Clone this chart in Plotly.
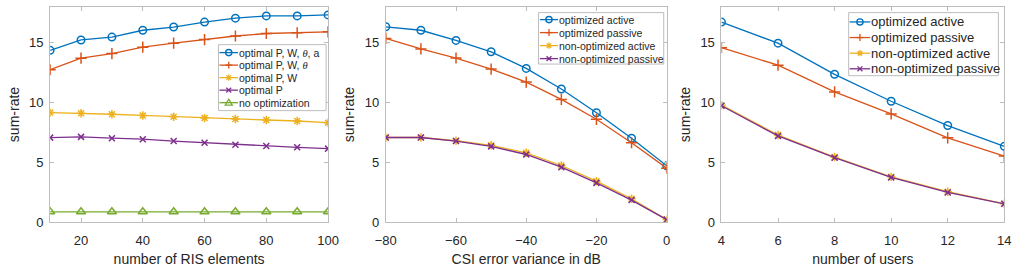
import plotly.graph_objects as go

# Panel 1: number of RIS elements
ris_x = [10, 20, 30, 40, 50, 60, 70, 80, 90, 100]
p1_pwta = [14.36, 15.23, 15.47, 16.04, 16.31, 16.72, 17.05, 17.24, 17.24, 17.32]
p1_pwt = [12.74, 13.71, 14.09, 14.63, 14.96, 15.26, 15.56, 15.77, 15.83, 15.91]
p1_pw = [9.16, 9.11, 9.02, 8.92, 8.81, 8.70, 8.62, 8.54, 8.46, 8.32]
p1_p = [7.07, 7.13, 7.02, 6.94, 6.78, 6.64, 6.48, 6.37, 6.26, 6.15]
p1_none = [0.87, 0.87, 0.87, 0.87, 0.87, 0.87, 0.87, 0.87, 0.87, 0.87]

# Panel 2: CSI error variance in dB
csi_x = [-80, -70, -60, -50, -40, -30, -20, -10, 0]
p2_oa = [16.33, 16.04, 15.19, 14.24, 12.85, 11.13, 9.15, 7.02, 4.71]
p2_op = [15.36, 14.48, 13.72, 12.80, 11.71, 10.26, 8.60, 6.64, 4.52]
p2_na = [7.08, 7.08, 6.81, 6.43, 5.80, 4.74, 3.43, 1.96, 0.22]
p2_np = [7.08, 7.08, 6.78, 6.34, 5.66, 4.60, 3.29, 1.85, 0.22]

# Panel 3: number of users
users_x = [4, 6, 8, 10, 12, 14]
p3_oa = [16.72, 14.96, 12.36, 10.11, 8.08, 6.34]
p3_op = [14.58, 13.12, 10.89, 9.05, 7.05, 5.53]
p3_na = [9.78, 7.29, 5.45, 3.79, 2.55, 1.54]
p3_np = [9.73, 7.21, 5.39, 3.74, 2.49, 1.54]

theta = "<span style=\"font-family:'Liberation Serif', serif\"><i>θ</i></span>"
names1 = ["optimal P, W, " + theta + ", a", "optimal P, W, " + theta, "optimal P, W", "optimal P", "no optimization"]
names23 = ["optimized active", "optimized passive", "non-optimized active", "non-optimized passive"]

C = ["#0072BD", "#D95319", "#EDB120", "#7E2F8E", "#77AC30"]
SYM = ["circle-open", "cross-thin-open", "asterisk-open", "x-thin-open", "triangle-up-open"]
SIZE = [7.5, 8, 7, 6, 8]

fig = go.Figure()

def add(x, y, i, name, xa, ya):
    fig.add_trace(go.Scatter(
        x=x, y=y, name=name, mode="lines+markers", xaxis=xa, yaxis=ya, showlegend=False,
        line=dict(color=C[i], width=1.3),
        marker=dict(symbol=SYM[i], size=SIZE[i], color=C[i], line=dict(color=C[i], width=1.5)),
    ))

for i, y in enumerate([p1_pwta, p1_pwt, p1_pw, p1_p, p1_none]):
    add(ris_x, y, i, names1[i], "x", "y")
for i, y in enumerate([p2_oa, p2_op, p2_na, p2_np]):
    add(csi_x, y, i, names23[i], "x2", "y2")
for i, y in enumerate([p3_oa, p3_op, p3_na, p3_np]):
    add(users_x, y, i, names23[i], "x3", "y3")

W, H = 1028, 271
AX = "#bdbdbd"
TXT = "#262626"

def px(x):
    return x / W

def py(y):
    return 1 - y / H

shapes = []
annotations = []

def seg(x0, y0, x1, y1, color, w=1.3):
    shapes.append(dict(type="line", xref="paper", yref="paper", layer="above",
                       x0=px(x0), y0=py(y0), x1=px(x1), y1=py(y1),
                       line=dict(color=color, width=w)))

def legend_marker(kind, cx, cy, color):
    if kind == 0:  # open circle
        r = 3.2
        shapes.append(dict(type="circle", xref="paper", yref="paper", layer="above",
                           x0=px(cx - r), x1=px(cx + r), y0=py(cy + r), y1=py(cy - r),
                           line=dict(color=color, width=1.4), fillcolor="rgba(0,0,0,0)"))
    elif kind == 1:  # plus
        r = 3.6
        seg(cx - r, cy, cx + r, cy, color, 1.3)
        seg(cx, cy - r, cx, cy + r, color, 1.3)
    elif kind == 2:  # asterisk
        r, d = 3.2, 2.3
        seg(cx - r, cy, cx + r, cy, color, 1.3)
        seg(cx, cy - r, cx, cy + r, color, 1.3)
        seg(cx - d, cy - d, cx + d, cy + d, color, 1.3)
        seg(cx - d, cy + d, cx + d, cy - d, color, 1.3)
    elif kind == 3:  # x
        d = 2.5
        seg(cx - d, cy - d, cx + d, cy + d, color, 1.3)
        seg(cx - d, cy + d, cx + d, cy - d, color, 1.3)
    elif kind == 4:  # open triangle
        r = 3.6
        path = "M {} {} L {} {} L {} {} Z".format(
            px(cx), py(cy - r), px(cx + r), py(cy + r * 0.7), px(cx - r), py(cy + r * 0.7))
        shapes.append(dict(type="path", xref="paper", yref="paper", layer="above", path=path,
                           line=dict(color=color, width=1.3), fillcolor="rgba(0,0,0,0)"))

def draw_legend(box, first_row, row_h, line_x, text_x, names, fsize):
    x0, y0, x1, y1 = box
    shapes.append(dict(type="rect", xref="paper", yref="paper", layer="above",
                       x0=px(x0), x1=px(x1), y0=py(y1), y1=py(y0),
                       line=dict(color=AX, width=1), fillcolor="white"))
    for i, name in enumerate(names):
        cy = first_row + i * row_h
        seg(line_x[0], cy, line_x[1], cy, C[i], 1.3)
        legend_marker(i, (line_x[0] + line_x[1]) / 2, cy, C[i])
        annotations.append(dict(xref="paper", yref="paper", x=px(text_x), y=py(cy),
                                xanchor="left", yanchor="middle", showarrow=False,
                                borderpad=0, text=name, font=dict(size=fsize, color=TXT)))

draw_legend((212, 46, 322, 114), 54.2, 12.9, (213, 232), 232, names1, 10.5)
draw_legend((539, 13, 667, 66), 20.2, 13.4, (540.5, 559), 559, names23, 10.5)
draw_legend((856, 13, 1009, 78), 22.6, 16.1, (857, 878), 878, names23, 13)

ydom = [1 - 229 / H, 1 - 7 / H]
doms = [[40 / W, 324 / W], [383 / W, 670 / W], [726 / W, 1015 / W]]

axcommon = dict(showline=True, linecolor=AX, linewidth=1, mirror="ticks",
                ticks="inside", ticklen=4, tickcolor=AX, showgrid=False, zeroline=False,
                tickfont=dict(size=13, color=TXT),
                title_font=dict(size=14, color=TXT))

xt = dict(ticklabelstandoff=6, **axcommon)
ytk = dict(ticklabelstandoff=3, **axcommon)

fig.update_layout(
    width=W, height=H, margin=dict(l=0, r=0, t=0, b=0),
    paper_bgcolor="white", plot_bgcolor="white",
    font=dict(family="Liberation Sans, Arial, sans-serif", color=TXT),
    showlegend=False,
    shapes=shapes, annotations=annotations,
    xaxis=dict(domain=doms[0], range=[10, 100], tickvals=[20, 40, 60, 80, 100],
               title=dict(text="number of RIS elements", standoff=7), anchor="y", **xt),
    yaxis=dict(domain=ydom, range=[0, 18], tickvals=[0, 5, 10, 15],
               title=dict(text="sum-rate", standoff=6), anchor="x", **ytk),
    xaxis2=dict(domain=doms[1], range=[-80, 0], tickvals=[-80, -60, -40, -20, 0],
                title=dict(text="CSI error variance in dB", standoff=7), anchor="y2", **xt),
    yaxis2=dict(domain=ydom, range=[0, 18], tickvals=[0, 5, 10, 15],
                title=dict(text="sum-rate", standoff=6), anchor="x2", **ytk),
    xaxis3=dict(domain=doms[2], range=[4, 14], tickvals=[4, 6, 8, 10, 12, 14],
                title=dict(text="number of users", standoff=7), anchor="y3", **xt),
    yaxis3=dict(domain=ydom, range=[0, 18], tickvals=[0, 5, 10, 15],
                title=dict(text="sum-rate", standoff=6), anchor="x3", **ytk),
)

fig.write_html("out.html")
